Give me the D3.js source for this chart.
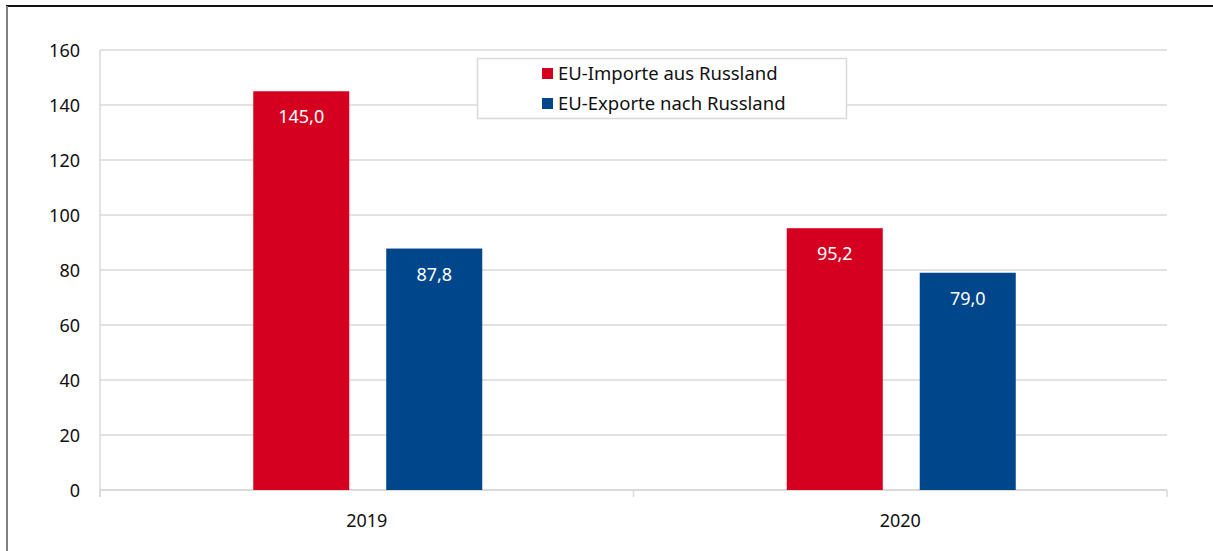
<!DOCTYPE html>
<html><head><meta charset="utf-8">
<script src="https://cdn.jsdelivr.net/npm/d3@7"></script>
<style>body{margin:0;background:#fff;} svg{display:block;font-family:"Noto Sans",sans-serif;}</style>
</head><body>
<svg id="c" width="1213" height="551"></svg>
<script>
const years = ["2019", "2020"];
const seriesNames = ["EU-Importe aus Russland", "EU-Exporte nach Russland"];
const imports = [145.0, 95.2];
const exports = [87.8, 79.0];
const yTicks = [0, 20, 40, 60, 80, 100, 120, 140, 160];
const colors = ["#d50020", "#00468b"];

(function () {
const svg = d3.select("#c");
const mLeft = 100, mRight = 1167, mTop = 50, mBottom = 490;

// frame
svg.append("line").attr("x1", 6).attr("x2", 1213).attr("y1", 6).attr("y2", 6).attr("stroke", "#111").attr("stroke-width", 2);
svg.append("line").attr("x1", 7).attr("x2", 7).attr("y1", 6).attr("y2", 551).attr("stroke", "#808080").attr("stroke-width", 2);

const y = d3.scaleLinear().domain([0, 160]).range([mBottom, mTop]);
const x0 = d3.scaleBand().domain(years).range([mLeft, mRight]);

// gridlines
svg.append("g").selectAll("line").data(yTicks.filter(d => d > 0)).join("line")
  .attr("x1", mLeft).attr("x2", mRight)
  .attr("y1", d => y(d)).attr("y2", d => y(d))
  .attr("stroke", "#d9d9d9").attr("stroke-width", 1.5);

// y axis
const yAxis = d3.axisLeft(y).tickValues(yTicks).tickSize(0).tickPadding(20).tickFormat(d3.format("d"));
const gy = svg.append("g").attr("transform", `translate(${mLeft},0)`).call(yAxis);
gy.select(".domain").attr("stroke", "#d9d9d9").attr("stroke-width", 1.5).attr("d", `M0,${mTop}V${mBottom + 7}`);
gy.selectAll("text").attr("font-size", 18).attr("fill", "#111").attr("font-family", "Noto Sans").attr("dy", "0.35em");

// x axis
svg.append("line").attr("x1", mLeft).attr("x2", mRight).attr("y1", mBottom).attr("y2", mBottom).attr("stroke", "#d9d9d9").attr("stroke-width", 2);
const xTickPos = [mLeft, x0("2020"), mRight];
svg.append("g").selectAll("line").data(xTickPos).join("line")
  .attr("x1", d => d).attr("x2", d => d).attr("y1", mBottom).attr("y2", mBottom + 7)
  .attr("stroke", "#d9d9d9").attr("stroke-width", 1.5);
svg.append("g").selectAll("text").data(years).join("text")
  .attr("x", d => x0(d) + x0.bandwidth() / 2).attr("y", 527)
  .attr("text-anchor", "middle").attr("font-size", 18).attr("fill", "#111").text(d => d);

// bars
const groupW = 229;
const data = years.map((yr, i) => ({ year: yr, vals: [imports[i], exports[i]] }));
data.forEach(d => {
  const c = x0(d.year) + x0.bandwidth() / 2 + 1;
  const x1 = d3.scaleBand().domain([0, 1]).range([c - groupW / 2, c + groupW / 2]).paddingInner(0.278);
  d.vals.forEach((v, j) => {
    svg.append("rect").attr("x", x1(j)).attr("width", x1.bandwidth())
      .attr("y", y(v)).attr("height", y(0) - y(v)).attr("fill", colors[j]);
    svg.append("text").attr("x", x1(j) + x1.bandwidth() / 2).attr("y", y(v) + 32)
      .attr("text-anchor", "middle").attr("font-size", 18).attr("fill", "#fff")
      .text(d3.format(".1f")(v).replace(".", ","));
  });
});

// legend
const lg = svg.append("g");
lg.append("rect").attr("x", 477.5).attr("y", 58.5).attr("width", 369).attr("height", 60)
  .attr("fill", "#fff").attr("stroke", "#d9d9d9").attr("stroke-width", 1.5);
seriesNames.forEach((n, i) => {
  lg.append("rect").attr("x", 542).attr("y", 68 + i * 30).attr("width", 11).attr("height", 11).attr("fill", colors[i]);
  lg.append("text").attr("x", 558).attr("y", 80 + i * 30).attr("font-size", 18.5).attr("fill", "#111").text(n);
});
})();
</script>
</body></html>
